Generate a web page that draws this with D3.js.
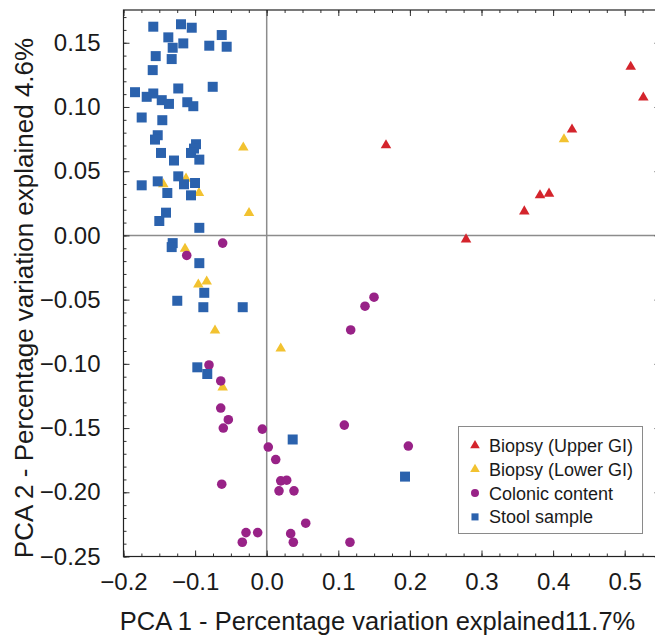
<!DOCTYPE html>
<html>
<head>
<meta charset="utf-8">
<script src="https://cdn.jsdelivr.net/npm/d3@7"></script>
<style>
  html, body { margin: 0; padding: 0; background: #fff; }
  svg { display: block; }
  text { font-family: "Liberation Sans", Arial, Helvetica, sans-serif; fill: #1a1a1a; }
</style>
</head>
<body>
<svg id="chart" width="655" height="637"></svg>
<script>
// ---- Data (PCA 1, PCA 2) ----
const upperGI = [
  [0.5084, 0.1313], [0.5260, 0.1074], [0.1666, 0.0702], [0.4264, 0.0824],
  [0.3817, 0.0312], [0.3943, 0.0325], [0.3598, 0.0187], [0.2784, -0.0031]
];
const lowerGI = [
  [-0.0327, 0.0684], [-0.1127, 0.0442], [-0.1444, 0.0398], [-0.0946, 0.0330],
  [-0.0247, 0.0174], [-0.1141, -0.0104], [-0.0955, -0.0382], [-0.0838, -0.0359],
  [-0.0722, -0.0741], [0.0196, -0.0881], [-0.0615, -0.1183], [0.4152, 0.0749]
];
const colonic = [
  [-0.0615, -0.0060], [-0.1117, -0.0156], [-0.0806, -0.1009], [-0.0642, -0.1133],
  [-0.0642, -0.1344], [-0.0536, -0.1435], [-0.0606, -0.1500], [-0.0061, -0.1508],
  [0.1084, -0.1477], [0.1978, -0.1640], [0.0022, -0.1648], [0.0126, -0.1745],
  [-0.0628, -0.1937], [0.0196, -0.1911], [0.0279, -0.1906], [0.0172, -0.1989],
  [0.0381, -0.1989], [0.0545, -0.2241], [-0.0289, -0.2314], [-0.0126, -0.2314],
  [0.0335, -0.2322], [-0.0341, -0.2389], [0.0372, -0.2389], [0.1163, -0.2389],
  [0.1499, -0.0481], [0.1373, -0.0551], [0.1173, -0.0736]
];
const stool = [
  [-0.1584, 0.1625], [-0.1197, 0.1644], [-0.1047, 0.1617], [-0.0628, 0.1560],
  [-0.1374, 0.1542], [-0.1165, 0.1495], [-0.1313, 0.1461], [-0.0802, 0.1477],
  [-0.0559, 0.1469], [-0.1550, 0.1396], [-0.1327, 0.1373], [-0.1592, 0.1287],
  [-0.1839, 0.1115], [-0.1235, 0.1144], [-0.0754, 0.1157], [-0.1676, 0.1079],
  [-0.1584, 0.1105], [-0.1466, 0.1053], [-0.1365, 0.1024], [-0.1109, 0.1037],
  [-0.1025, 0.1006], [-0.1746, 0.0918], [-0.1458, 0.0897], [-0.1522, 0.0780],
  [-0.1560, 0.0746], [-0.0987, 0.0710], [-0.1015, 0.0676], [-0.1057, 0.0642],
  [-0.1476, 0.0642], [-0.1295, 0.0583], [-0.0941, 0.0590], [-0.1235, 0.0460],
  [-0.1746, 0.0390], [-0.1522, 0.0421], [-0.1155, 0.0398], [-0.1001, 0.0408],
  [-0.1388, 0.0330], [-0.1057, 0.0312], [-0.1406, 0.0177], [-0.1500, 0.0112],
  [-0.0941, 0.0059], [-0.1313, -0.0060], [-0.1327, -0.0091], [-0.0941, -0.0216],
  [-0.0872, -0.0447], [-0.1249, -0.0509], [-0.0885, -0.0559], [-0.0335, -0.0559],
  [-0.0969, -0.1027], [-0.0830, -0.1079], [0.0363, -0.1589], [0.1932, -0.1878]
];
const seriesNames = ["Biopsy (Upper GI)", "Biopsy (Lower GI)", "Colonic content", "Stool sample"];
const xTickValues = [-0.2, -0.1, 0.0, 0.1, 0.2, 0.3, 0.4, 0.5];
const yTickValues = [-0.25, -0.20, -0.15, -0.10, -0.05, 0.00, 0.05, 0.10, 0.15];
const xTitle = "PCA 1 - Percentage variation explained11.7%";
const yTitle = "PCA 2 - Percentage variation explained 4.6%";

// ---- Layout ----
const svg = d3.select("#chart");
const pLeft = 123.5, pTop = 10, pBottom = 556.5, pRight = 660.5;
const x = d3.scaleLinear().domain([-0.2, 0.55]).range([pLeft, pRight]);
const y = d3.scaleLinear().domain([-0.25, 0.1755]).range([pBottom, pTop]);

const colors = {
  upper: "#d4242c",
  lower: "#f2c230",
  colonic: "#982287",
  stool: "#2b62ad"
};

// zero lines
svg.append("line").attr("x1", x(0)).attr("x2", x(0)).attr("y1", pTop).attr("y2", pBottom)
  .attr("stroke", "#8c8c8c").attr("stroke-width", 1.5);
svg.append("line").attr("x1", pLeft).attr("x2", pRight).attr("y1", y(0)).attr("y2", y(0))
  .attr("stroke", "#8c8c8c").attr("stroke-width", 1.5);

// ticks (inward, all sides)
const xMinor = d3.range(-0.2, 0.5501, 0.025);
const yMinor = d3.range(-0.25, 0.1751, 0.01);
function tickAxis(axisFn, scale, vals, size, transform) {
  const g = svg.append("g").attr("transform", transform)
    .call(axisFn(scale).tickValues(vals).tickSize(size).tickFormat(""));
  g.select(".domain").remove();
  g.selectAll(".tick line").attr("stroke", "#333").attr("stroke-width", 1);
}
tickAxis(d3.axisBottom, x, xMinor, -3, `translate(0,${pBottom})`);
tickAxis(d3.axisBottom, x, xTickValues, -6, `translate(0,${pBottom})`);
tickAxis(d3.axisTop, x, xMinor, -3, `translate(0,${pTop})`);
tickAxis(d3.axisTop, x, xTickValues, -6, `translate(0,${pTop})`);
tickAxis(d3.axisLeft, y, yMinor, -3, `translate(${pLeft},0)`);
tickAxis(d3.axisLeft, y, yTickValues, -6, `translate(${pLeft},0)`);
tickAxis(d3.axisRight, y, yMinor, -3, `translate(${pRight},0)`);
tickAxis(d3.axisRight, y, yTickValues, -6, `translate(${pRight},0)`);

// labels
const xLab = svg.append("g").attr("transform", `translate(0,${pBottom})`)
  .call(d3.axisBottom(x).tickValues(xTickValues).tickSize(0).tickPadding(16).tickFormat(d3.format(".1f")));
xLab.select(".domain").remove();
xLab.selectAll("text").style("font-size", "24px").style("font-family", "Liberation Sans, Arial, sans-serif").attr("fill", "#1a1a1a");

const yLab = svg.append("g").attr("transform", `translate(${pLeft},0)`)
  .call(d3.axisLeft(y).tickValues(yTickValues).tickSize(0).tickPadding(23).tickFormat(d3.format(".2f")));
yLab.select(".domain").remove();
yLab.selectAll("text").style("font-size", "24px").style("font-family", "Liberation Sans, Arial, sans-serif").attr("fill", "#1a1a1a");

// frame
svg.append("rect").attr("x", pLeft).attr("y", pTop).attr("width", pRight - pLeft).attr("height", pBottom - pTop)
  .attr("fill", "none").attr("stroke", "#222").attr("stroke-width", 1.2);

// points
const tri = d3.symbol().type(d3.symbolTriangle).size(48);
const sq = d3.symbol().type(d3.symbolSquare).size(100);
const circ = d3.symbol().type(d3.symbolCircle).size(72);

const pts = svg.append("g");
function drawSeries(data, gen, color) {
  pts.append("g").selectAll("path").data(data).join("path")
    .attr("d", gen)
    .attr("transform", d => `translate(${x(d[0])},${y(d[1])})`)
    .attr("fill", color);
}
drawSeries(lowerGI, tri, colors.lower);
drawSeries(colonic, circ, colors.colonic);
drawSeries(stool, sq, colors.stool);
drawSeries(upperGI, tri, colors.upper);

// legend
const lg = svg.append("g");
lg.append("rect").attr("x", 458.5).attr("y", 426.5).attr("width", 184).attr("height", 107)
  .attr("fill", "#fff").attr("stroke", "#8a8a8a").attr("stroke-width", 1);
const legendItems = [
  { name: seriesNames[0], gen: d3.symbol().type(d3.symbolTriangle).size(40), color: colors.upper },
  { name: seriesNames[1], gen: d3.symbol().type(d3.symbolTriangle).size(40), color: colors.lower },
  { name: seriesNames[2], gen: d3.symbol().type(d3.symbolCircle).size(50), color: colors.colonic },
  { name: seriesNames[3], gen: d3.symbol().type(d3.symbolSquare).size(50), color: colors.stool }
];
legendItems.forEach((it, i) => {
  const cy = 445.5 + i * 23.8;
  lg.append("path").attr("d", it.gen()).attr("transform", `translate(475,${cy})`).attr("fill", it.color);
  lg.append("text").attr("x", 489).attr("y", cy).attr("dy", "0.36em")
    .style("font-size", "18px").text(it.name);
});

// axis titles
svg.append("text").attr("x", 377.5).attr("y", 630).attr("text-anchor", "middle")
  .style("font-size", "25.5px").text(xTitle);
svg.append("text").attr("transform", "translate(33,298) rotate(-90)").attr("text-anchor", "middle")
  .style("font-size", "26px").text(yTitle);
</script>
</body>
</html>
